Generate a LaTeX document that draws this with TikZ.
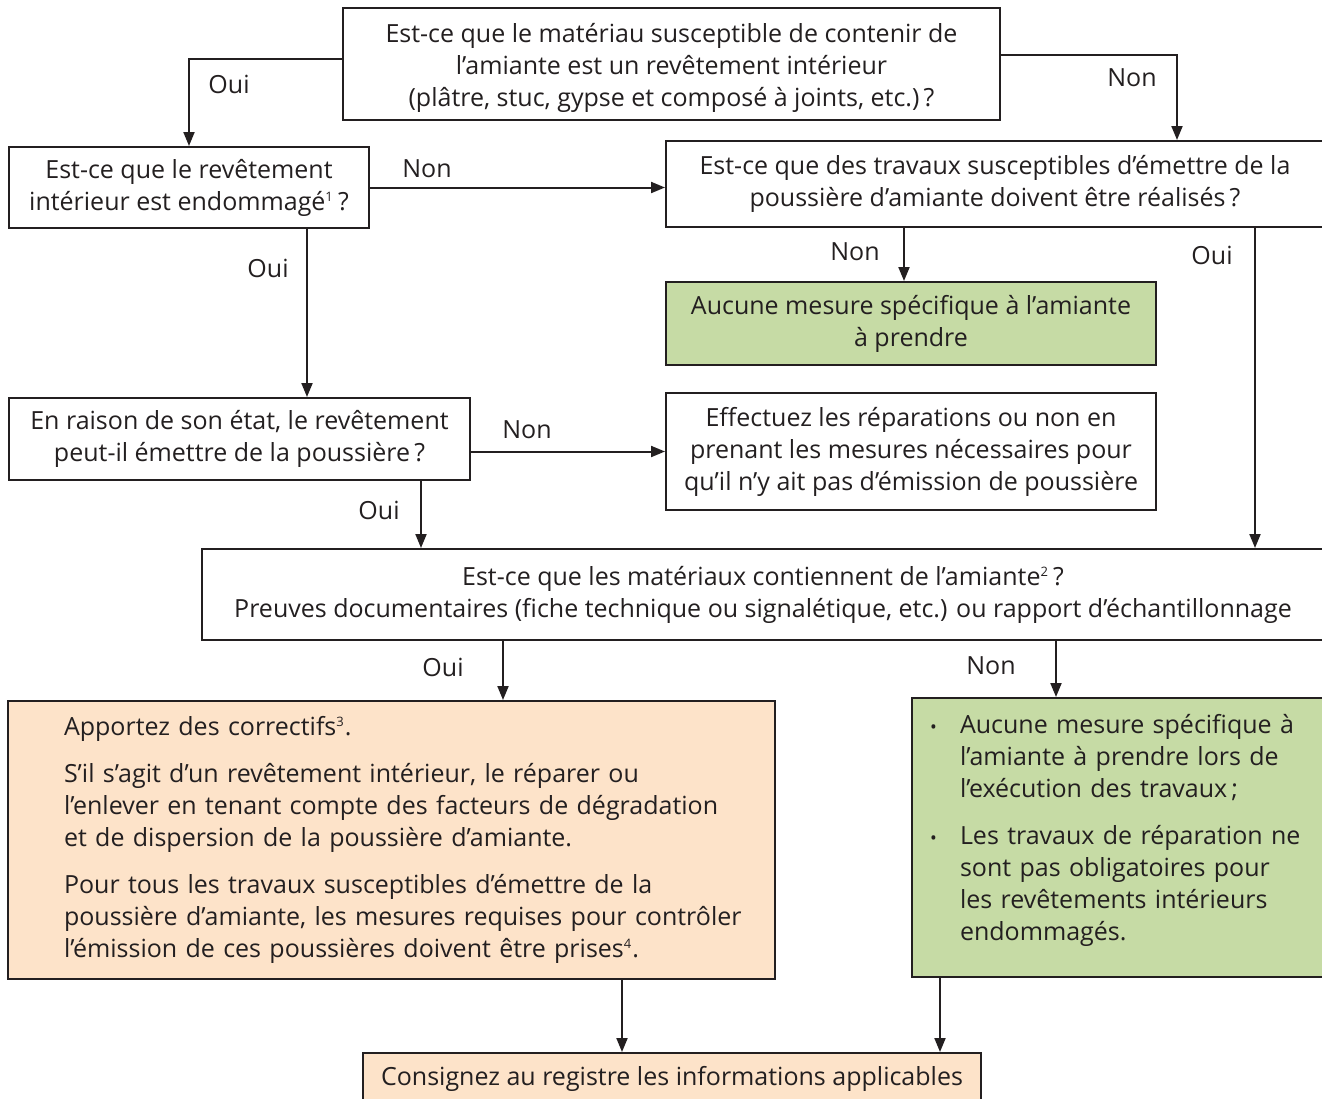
\documentclass[tikz,border=0pt]{standalone}
\usepackage{fontspec}
\setmainfont{Open Sans}
\usepackage{xcolor}
\usetikzlibrary{arrows.meta}

\definecolor{ink}{RGB}{35,31,32}
\definecolor{vert}{RGB}{198,219,165}
\definecolor{peche}{RGB}{253,227,201}
\newcommand{\expo}[1]{\textsuperscript{\fontsize{6.5pt}{6.5pt}\selectfont #1}}

\begin{document}
\begin{tikzpicture}[x=0.5pt, y=-0.5pt,
	every node/.style={font=\fontsize{12.5pt}{16pt}\selectfont, text=ink},
	box/.style={draw=ink, line width=1pt, align=center, inner sep=0pt},
	lbl/.style={inner sep=0pt},
	arr/.style={draw=ink, line width=1pt, -{Triangle[length=7pt,width=5.5pt]}}]
	\useasboundingbox (0,0) rectangle (1322,1098);

	% questions
	\node[box, minimum width=328.5pt, minimum height=56pt] (mat) at (671.5,64) {\rule{0pt}{13pt}Est-ce que le matériau susceptible de contenir de\\ l’amiante est un revêtement intérieur\\ (plâtre, stuc, gypse et composé à joints, etc.)\,?};
	\node[box, minimum width=180pt, minimum height=40.5pt] (endo) at (189,187.5) {Est-ce que le revêtement\\ intérieur est endommagé\expo{1}\,?};
	\node[box, minimum width=329pt, minimum height=43pt] (trav) at (995,184) {Est-ce que des travaux susceptibles d’émettre de la\\ poussière d’amiante doivent être réalisés\,?};
	\node[box, fill=vert, minimum width=245pt, minimum height=41.5pt] (aucune) at (911,323.5) {Aucune mesure spécifique à l’amiante\\ à prendre};
	\node[box, minimum width=230.5pt, minimum height=41pt] (etat) at (239.5,439) {En raison de son état, le revêtement\\ peut-il émettre de la poussière\,?};
	\node[box, minimum width=245pt, minimum height=58.5pt] (repar) at (911,451.5) {Effectuez les réparations ou non en\\ prenant les mesures nécessaires pour\\ qu’il n’y ait pas d’émission de poussière};
	\node[box, minimum width=561pt, minimum height=45.5pt] (contient) at (763,594.5) {Est-ce que les matériaux contiennent de l’amiante\expo{2}\,?\\ Preuves documentaires (fiche technique ou signalétique, etc.) ou rapport d’échantillonnage};

	% results
	\node[box, fill=peche, align=left, text width=355.5pt, inner xsep=14pt, minimum height=139pt] (correct) at (391.5,840) {\leftskip=14pt
		Apportez des correctifs\expo{3}.\\[7.5pt]
		S’il s’agit d’un revêtement intérieur, le réparer ou\\ l’enlever en tenant compte des facteurs de dégradation\\ et de dispersion de la poussière d’amiante.\\[7.5pt]
		Pour tous les travaux susceptibles d’émettre de la\\ poussière d’amiante, les mesures requises pour contrôler\\ l’émission de ces poussières doivent être prises\expo{4}.\par};
	\node[box, fill=vert, align=left, text width=188pt, inner xsep=9pt, minimum height=139.5pt] (nomesure) at (1118,837.5) {%
		\makebox[15pt][l]{\small •}\parbox[t]{173pt}{\raggedright Aucune mesure spécifique à\\ l’amiante à prendre lors de\\ l’exécution des travaux\,;}\\[11.5pt]
		\makebox[15pt][l]{\small •}\parbox[t]{173pt}{\raggedright Les travaux de réparation ne\\ sont pas obligatoires pour\\ les revêtements intérieurs\\ endommagés.\rule[-10pt]{0pt}{1pt}}};
	\node[box, fill=peche, minimum width=309pt, minimum height=26pt] (registre) at (672,1079) {Consignez au registre les informations applicables};

	% connectors
	\coordinate (c1) at ([xshift=59pt]endo.south);
	\coordinate (c2) at ([xshift=-45.5pt]trav.south);
	\coordinate (c3) at ([xshift=130pt]trav.south);
	\coordinate (c4) at ([xshift=90.75pt]etat.south);
	\coordinate (c5) at ([xshift=-130pt]contient.south);
	\coordinate (c6) at ([xshift=146.5pt]contient.south);
	\coordinate (c7) at ([xshift=115.25pt]correct.south);
	\coordinate (c8) at ([xshift=-89pt]nomesure.south);
	\coordinate (m1) at ([yshift=2.5pt]mat.west);
	\coordinate (m2) at ([yshift=4.5pt]mat.east);
	\coordinate (t1) at ([xshift=91pt]trav.north);

	\draw[arr] (m1) -| (endo.north);
	\draw[arr] (m2) -| (t1);
	\draw[arr] (endo.east) -- (endo.east -| trav.west);
	\draw[arr] (c1) -- (c1 |- etat.north);
	\draw[arr] (c2) -- (c2 |- aucune.north);
	\draw[arr] (c3) -- (c3 |- contient.north);
	\draw[arr] (repar.west -| etat.east) -- (repar.west);
	\draw[arr] (c4) -- (c4 |- contient.north);
	\draw[arr] (c5) -- (c5 |- correct.north);
	\draw[arr] (c6) -- (c6 |- nomesure.north);
	\draw[arr] (c7) -- (c7 |- registre.north);
	\draw[arr] (c8) -- (c8 |- registre.north);

	% labels
	\node[lbl] (oui1) at (229,84) {Oui};
	\node[lbl] (non1) at (1132,78) {Non};
	\node[lbl] (non2) at (427,169) {Non};
	\node[lbl] (oui2) at (268,268) {Oui};
	\node[lbl] (non3) at (855,252) {Non};
	\node[lbl] (oui3) at (1212,255) {Oui};
	\node[lbl] (non4) at (527,430) {Non};
	\node[lbl] (oui4) at (379,510) {Oui};
	\node[lbl] (oui5) at (443,667) {Oui};
	\node[lbl] (non5) at (991,666) {Non};
\end{tikzpicture}
\end{document}
